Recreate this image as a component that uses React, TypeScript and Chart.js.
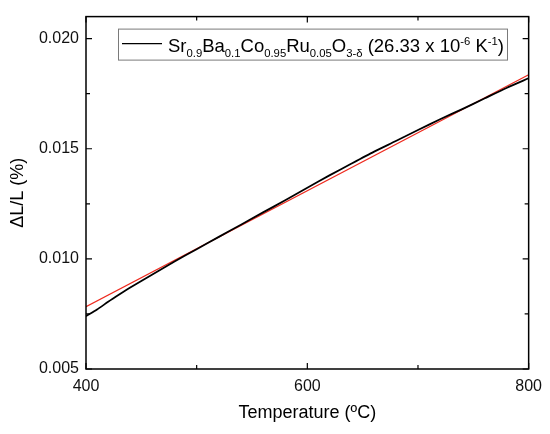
import React, { useEffect, useRef } from "react";
import { Chart, registerables } from "chart.js";

Chart.register(...registerables);

// Measured dilatometry curve
const temperature = [400, 410, 420, 430, 440, 460, 480, 500, 520, 540, 560, 580, 600, 620, 640, 660, 680, 700, 720, 740, 760, 780, 800];
const expansion = [0.0074, 0.0077, 0.00805, 0.00838, 0.0087, 0.00929, 0.00988, 0.01044, 0.011, 0.01155, 0.01211, 0.01266, 0.01323, 0.01379, 0.01433, 0.01486, 0.01535, 0.01585, 0.01634, 0.0168, 0.01728, 0.01776, 0.0182];
// Linear fit (red)
const fitTemperature = [400, 800];
const fitExpansion = [0.00783, 0.01836];

const xMajorTicks = [400, 600, 800];
const xMinorTicks = [500, 700];
const yMajorTicks = [0.005, 0.01, 0.015, 0.02];
const yMinorTicks = [0.0075, 0.0125, 0.0175];

const xTitle = "Temperature (ºC)";
const yTitle = "ΔL/L (%)";
const legendParts: { t: string; m: "n" | "sub" | "sup" }[] = [
  { t: "Sr", m: "n" },
  { t: "0.9", m: "sub" },
  { t: "Ba", m: "n" },
  { t: "0.1", m: "sub" },
  { t: "Co", m: "n" },
  { t: "0.95", m: "sub" },
  { t: "Ru", m: "n" },
  { t: "0.05", m: "sub" },
  { t: "O", m: "n" },
  { t: "3-δ", m: "sub" },
  { t: " (26.33 x 10", m: "n" },
  { t: "-6", m: "sup" },
  { t: " K", m: "n" },
  { t: "-1", m: "sup" },
  { t: ")", m: "n" },
];

const FONT = '"Liberation Sans", Arial, sans-serif';

const framePlugin = {
  id: "frameTicks",
  afterDatasetsDraw(chart: any) {
    const { ctx, chartArea: a, scales } = chart;
    const xs = scales.x;
    const ys = scales.y;
    ctx.save();
    ctx.strokeStyle = "#000";
    ctx.lineWidth = 1.5;
    ctx.strokeRect(a.left, a.top, a.right - a.left, a.bottom - a.top);
    ctx.lineWidth = 1.2;
    const drawX = (v: number, len: number) => {
      const px = xs.getPixelForValue(v);
      ctx.beginPath();
      ctx.moveTo(px, a.bottom);
      ctx.lineTo(px, a.bottom - len);
      ctx.moveTo(px, a.top);
      ctx.lineTo(px, a.top + len);
      ctx.stroke();
    };
    const drawY = (v: number, len: number) => {
      const py = ys.getPixelForValue(v);
      ctx.beginPath();
      ctx.moveTo(a.left, py);
      ctx.lineTo(a.left + len, py);
      ctx.moveTo(a.right, py);
      ctx.lineTo(a.right - len, py);
      ctx.stroke();
    };
    xMajorTicks.forEach((v) => drawX(v, 6));
    xMinorTicks.forEach((v) => drawX(v, 4));
    yMajorTicks.forEach((v) => drawY(v, 6));
    yMinorTicks.forEach((v) => drawY(v, 4));

    // Legend
    const bx = a.left + 32;
    const by = a.top + 12;
    const bw = 389;
    const bh = 31;
    ctx.fillStyle = "#fff";
    ctx.fillRect(bx, by, bw, bh);
    ctx.strokeStyle = "#7a7a7a";
    ctx.lineWidth = 1;
    ctx.strokeRect(bx + 0.5, by + 0.5, bw, bh);
    ctx.strokeStyle = "#000";
    ctx.lineWidth = 1.4;
    ctx.beginPath();
    ctx.moveTo(bx + 4, by + 15);
    ctx.lineTo(bx + 44, by + 15);
    ctx.stroke();
    let tx = bx + 50;
    const base = by + 23;
    ctx.fillStyle = "#000";
    ctx.textBaseline = "alphabetic";
    ctx.textAlign = "left";
    legendParts.forEach((p) => {
      if (p.m === "n") {
        ctx.font = `18.5px ${FONT}`;
        ctx.fillText(p.t, tx, base);
      } else if (p.m === "sub") {
        ctx.font = `11.3px ${FONT}`;
        ctx.fillText(p.t, tx, base + 5);
      } else {
        ctx.font = `11.3px ${FONT}`;
        ctx.fillText(p.t, tx, base - 7);
      }
      tx += ctx.measureText(p.t).width;
    });
    ctx.restore();
  },
};

export default function App() {
  const ref = useRef<HTMLCanvasElement | null>(null);
  useEffect(() => {
    document.body.style.margin = "0";
    if (!ref.current) return;
    const chart = new Chart(ref.current, {
      type: "line",
      data: {
        datasets: [
          {
            label: "data",
            data: temperature.map((t, i) => ({ x: t, y: expansion[i] })),
            borderColor: "#000",
            borderWidth: 1.8,
            pointRadius: 0,
            tension: 0.2,
          },
          {
            label: "fit",
            data: fitTemperature.map((t, i) => ({ x: t, y: fitExpansion[i] })),
            borderColor: "#ee2a1e",
            borderWidth: 1.2,
            pointRadius: 0,
            tension: 0,
          },
        ],
      },
      options: {
        animation: false,
        responsive: false,
        devicePixelRatio: 1,
        layout: { padding: { top: 12, right: 20, left: 0, bottom: 0 } },
        plugins: { legend: { display: false }, tooltip: { enabled: false } },
        scales: {
          x: {
            type: "linear",
            min: 400,
            max: 800,
            afterBuildTicks: (s: any) => {
              s.ticks = xMajorTicks.map((v) => ({ value: v }));
            },
            afterFit: (s: any) => {
              s.height = 65;
            },
            grid: { display: false, drawTicks: false },
            border: { display: false },
            ticks: {
              padding: 8,
              color: "#111",
              font: { family: FONT, size: 16 },
              callback: (v: any) => String(v),
            },
            title: {
              display: true,
              text: xTitle,
              color: "#000",
              font: { family: FONT, size: 18 },
              padding: { top: 0, bottom: 10 },
            },
          },
          y: {
            type: "linear",
            min: 0.005,
            max: 0.021,
            afterBuildTicks: (s: any) => {
              s.ticks = yMajorTicks.map((v) => ({ value: v }));
            },
            afterFit: (s: any) => {
              s.width = 86;
            },
            grid: { display: false, drawTicks: false },
            border: { display: false },
            ticks: {
              padding: 7,
              color: "#111",
              font: { family: FONT, size: 16 },
              callback: (v: any) => Number(v).toFixed(3),
            },
            title: {
              display: true,
              text: yTitle,
              color: "#000",
              font: { family: FONT, size: 18 },
              padding: { top: 7, bottom: 0 },
            },
          },
        },
      },
      plugins: [framePlugin],
    } as any);
    return () => chart.destroy();
  }, []);
  return (
    <div style={{ width: 550, height: 434, background: "#fff" }}>
      <canvas ref={ref} width={550} height={434} />
    </div>
  );
}
